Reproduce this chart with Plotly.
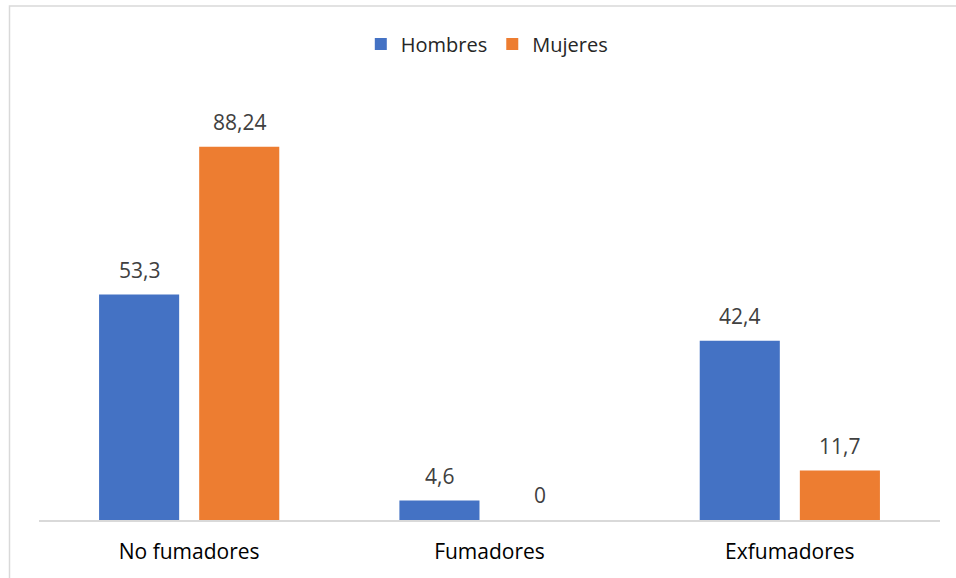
import plotly.graph_objects as go

categories = ["No fumadores", "Fumadores", "Exfumadores"]
hombres = [53.3, 4.6, 42.4]
mujeres = [88.24, 0, 11.7]
series_names = ["Hombres", "Mujeres"]
colors = ["#4472C4", "#ED7D31"]

W, H = 956, 578
ml, mr, mt, mb = 39, 16, 97, 58
pw, ph = W - ml - mr, H - mt - mb

fig = go.Figure()
for name, vals, col in zip(series_names, [hombres, mujeres], colors):
    fig.add_trace(go.Bar(
        name=name, x=list(range(len(categories))), y=vals,
        marker=dict(color=col, line=dict(width=0)),
    ))

# value labels above each bar (two bars per group, offset by half a slot)
bargap, groupgap = 1 / 3, 0.2
slot = (1 - bargap) / 2
for k, vals in enumerate([hombres, mujeres]):
    off = (k - 0.5) * slot
    for i, v in enumerate(vals):
        fig.add_annotation(
            x=i + off, y=v, xref="x", yref="y",
            text=f"{v:g}".replace(".", ","),
            showarrow=False, yanchor="bottom", yshift=9,
            font=dict(family="Open Sans", size=21, color="#404040"),
        )

# light chart-area frame
def px_x(p):
    return (p - ml) / pw

def px_y(p):
    return (H - mb - p) / ph

fig.add_shape(type="rect", xref="paper", yref="paper",
              x0=px_x(9.5), x1=px_x(970), y0=px_y(600), y1=px_y(6),
              line=dict(color="#D9D9D9", width=1.5), fillcolor="rgba(0,0,0,0)", layer="below")

fig.update_layout(
    width=W, height=H,
    margin=dict(l=ml, r=mr, t=mt, b=mb),
    paper_bgcolor="white", plot_bgcolor="white",
    barmode="group", bargap=bargap, bargroupgap=groupgap,
    font=dict(family="Open Sans", size=21, color="#262626"),
    showlegend=True,
    legend=dict(orientation="h", x=0.497, xanchor="center", y=px_y(44), yanchor="middle",
                font=dict(size=20, color="#262626"), itemwidth=30, traceorder="normal"),
    xaxis=dict(tickmode="array", tickvals=list(range(len(categories))), ticktext=categories,
               range=[-0.5, 2.5], showline=True, linecolor="#D9D9D9", linewidth=1.5,
               showgrid=False, zeroline=False, ticks="", ticklen=0, ticklabelstandoff=12,
               tickfont=dict(size=21, color="#000000")),
    yaxis=dict(range=[0, 100], visible=False, showgrid=False, zeroline=False),
)

fig.write_html("out.html")
